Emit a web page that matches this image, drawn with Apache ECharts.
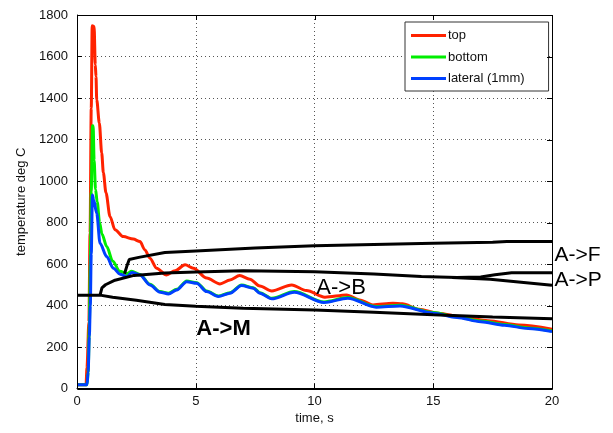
<!DOCTYPE html>
<html>
<head>
<meta charset="utf-8">
<script src="https://cdn.jsdelivr.net/npm/echarts@6/dist/echarts.min.js"></script>
<style>html,body{margin:0;padding:0;background:#fff;}#c{width:613px;height:433px;}</style>
</head>
<body>
<div id="c"></div>
<script>
var xTicks = [0, 5, 10, 15, 20];
var yTicks = [0, 200, 400, 600, 800, 1000, 1200, 1400, 1600, 1800];

var topSeries = [[0,18],[0.38,18],[0.42,100],[0.5,320],[0.55,750],[0.6,1350],[0.64,1748],[0.72,1745],[0.77,1560],[0.8,1504],[0.83,1392],[0.94,1280],[1.04,1135],[1.11,1040],[1.22,943],[1.39,829],[1.6,765],[1.95,732],[2.37,720],[2.65,708],[2.86,668],[3.07,628],[3.35,580],[3.77,547],[4.13,568],[4.55,596],[4.9,580],[5.46,532],[6.02,504],[6.44,523],[6.85,544],[7.28,527],[7.7,494],[8.2,470],[9.04,499],[9.66,472],[10.44,440],[11.35,451],[11.9,427],[12.46,403],[13.3,411],[13.7,408],[14.4,382],[15.2,363],[16.3,343],[17.3,327],[18.6,306],[20,286]];
var bottomSeries = [[0,18],[0.42,18],[0.47,80],[0.52,300],[0.56,600],[0.6,950],[0.65,1266],[0.68,1266],[0.72,1100],[0.78,960],[0.85,900],[0.95,800],[1.05,745],[1.25,684],[1.5,615],[1.8,565],[2.1,554],[2.3,565],[2.65,550],[3.07,502],[3.5,467],[3.85,459],[4.2,478],[4.62,518],[5.04,510],[5.46,470],[5.95,446],[6.44,462],[6.93,499],[7.42,486],[7.7,462],[8.2,435],[9.15,467],[10.4,417],[11.4,438],[12.6,395],[13.6,401],[15,366],[16,345],[17,325],[18,308],[19,292],[20,277]];
var lateralSeries = [[0,18],[0.42,18],[0.47,80],[0.52,250],[0.56,400],[0.6,650],[0.65,933],[0.7,910],[0.83,845],[0.97,700],[1.25,636],[1.53,580],[1.81,551],[2.1,539],[2.3,559],[2.65,547],[3.07,499],[3.5,464],[3.85,456],[4.2,475],[4.62,515],[5.04,507],[5.46,467],[5.95,443],[6.44,459],[6.93,496],[7.42,483],[7.7,459],[8.2,432],[9.15,464],[10.4,414],[11.4,435],[12.6,392],[13.6,398],[15,363],[16,342],[17,322],[18,305],[19,289],[20,274]];
var toM = [[0,450],[0.97,450],[1.5,440],[2.5,425],[3.7,405],[5,396],[7,387],[10,378],[12.5,367],[15,355],[17.5,345],[20,336]];
var toB = [[0.97,450],[1.05,485],[1.2,500],[1.6,522],[2.4,545],[3.7,557],[5,562],[7,567],[10,563],[12.5,552],[14.5,540],[16,535],[17,537],[17.6,548],[18.3,558],[20,558]];
var toP = [[15.8,535],[17.4,527],[20,498]];
var toF = [[2.0,553],[2.1,590],[2.2,622],[2.6,632],[3.7,655],[5,663],[7.5,677],[10,688],[12.5,694],[15,700],[17.5,705],[18.1,708],[20,708]];
var names = ['top', 'bottom', 'lateral (1mm)'];
var colors = ['#ff2200', '#00ee00', '#0040ff'];
var phaseLabels = [
  {text: 'A->M', at: [6.17, 287], bold: true, size: 22, align: 'center'},
  {text: 'A->B', at: [11.12, 487], bold: false, size: 22, align: 'center'},
  {text: 'A->F', at: [20.1, 643], bold: false, size: 21, align: 'left'},
  {text: 'A->P', at: [20.1, 523], bold: false, size: 21, align: 'left'}
];

var FONT = '"Liberation Sans", Arial, sans-serif';
var chart = echarts.init(document.getElementById('c'), null, {renderer: 'canvas'});

function lineSeries(name, data, color, z, smooth) {
  return {
    name: name, type: 'line', data: data, showSymbol: false, symbol: 'none',
    smooth: smooth || false, smoothMonotone: smooth ? 'x' : undefined,
    lineStyle: {color: color, width: 3}, itemStyle: {color: color},
    animation: false, z: z, clip: true
  };
}

var tickStyle = {show: true, inside: true, length: 5, lineStyle: {color: '#000'}};
var lblStyle = {color: '#111', fontSize: 13, fontFamily: FONT};
var gridLine = {show: true, lineStyle: {type: [1, 3], color: '#555', width: 1}};

var option = {
  animation: false,
  backgroundColor: '#fff',
  grid: {left: 77, right: 61, top: 15, bottom: 44.5, containLabel: false},
  legend: {
    data: names, orient: 'vertical', left: 405, top: 22,
    backgroundColor: '#fff', borderColor: '#333', borderWidth: 1,
    padding: [6, 24, 5, 6], itemGap: 6.5, itemWidth: 35, itemHeight: 3, icon: 'rect',
    textStyle: {fontSize: 13, fontFamily: FONT, color: '#111', lineHeight: 15, padding: [0,0,0,-3]},
    itemStyle: {borderWidth: 0}
  },
  xAxis: [{
    type: 'value', min: xTicks[0], max: xTicks[xTicks.length-1], interval: xTicks[1]-xTicks[0],
    name: 'time, s', nameLocation: 'middle', nameGap: 21,
    nameTextStyle: {fontSize: 13, fontFamily: FONT, color: '#111'},
    axisLine: {show: true, onZero: false, lineStyle: {color: '#000', width: 1}},
    axisTick: tickStyle,
    axisLabel: Object.assign({margin: 6}, lblStyle),
    splitLine: gridLine
  }],
  yAxis: [{
    type: 'value', min: yTicks[0], max: yTicks[yTicks.length-1], interval: yTicks[1]-yTicks[0],
    name: 'temperature deg C', nameLocation: 'middle', nameGap: 45, nameRotate: 90,
    nameTextStyle: {fontSize: 13, fontFamily: FONT, color: '#111'},
    axisLine: {show: true, onZero: false, lineStyle: {color: '#000', width: 1}},
    axisTick: tickStyle,
    axisLabel: Object.assign({margin: 9, formatter: function (v) { return String(v); }}, lblStyle),
    splitLine: gridLine
  }],
  series: [
    lineSeries(names[0], topSeries, colors[0], 2, 0.3),
    lineSeries(names[1], bottomSeries, colors[1], 3, 0.3),
    lineSeries(names[2], lateralSeries, colors[2], 4, 0.3),
    lineSeries('A->M', toM, '#000', 5),
    lineSeries('A->B', toB, '#000', 5),
    lineSeries('A->P', toP, '#000', 5),
    lineSeries('A->F', toF, '#000', 5)
  ]
};
chart.setOption(option);

function px(pt) { return chart.convertToPixel({xAxisIndex: 0, yAxisIndex: 0}, pt); }
var g = phaseLabels.map(function (p) {
  var q = px(p.at);
  return {
    type: 'text', x: q[0], y: q[1], z: 100,
    style: {text: p.text, fill: '#000', font: (p.bold ? 'bold ' : '') + p.size + 'px ' + FONT,
      textAlign: p.align, textVerticalAlign: 'middle'}
  };
});
// frame box and mirrored inside ticks (top and right)
var tl = px([xTicks[0], yTicks[yTicks.length-1]]);
var br = px([xTicks[xTicks.length-1], yTicks[0]]);
g.push({type: 'rect', z: 90, silent: true,
  shape: {x: Math.round(tl[0]) + 0.5, y: Math.round(tl[1]) + 0.5, width: Math.round(br[0] - tl[0]), height: Math.round(br[1] - tl[1])},
  style: {fill: 'none', stroke: '#000', lineWidth: 1}});
xTicks.forEach(function (v) {
  var a = px([v, yTicks[yTicks.length-1]]);
  g.push({type: 'line', z: 90, silent: true, shape: {x1: Math.round(a[0]) + 0.5, y1: a[1], x2: Math.round(a[0]) + 0.5, y2: a[1] + 5}, style: {stroke: '#000', lineWidth: 1}});
});
yTicks.forEach(function (v) {
  var a = px([xTicks[xTicks.length-1], v]);
  g.push({type: 'line', z: 90, silent: true, shape: {x1: a[0], y1: Math.round(a[1]) + 0.5, x2: a[0] - 5, y2: Math.round(a[1]) + 0.5}, style: {stroke: '#000', lineWidth: 1}});
});
chart.setOption({graphic: g});
</script>
</body>
</html>
